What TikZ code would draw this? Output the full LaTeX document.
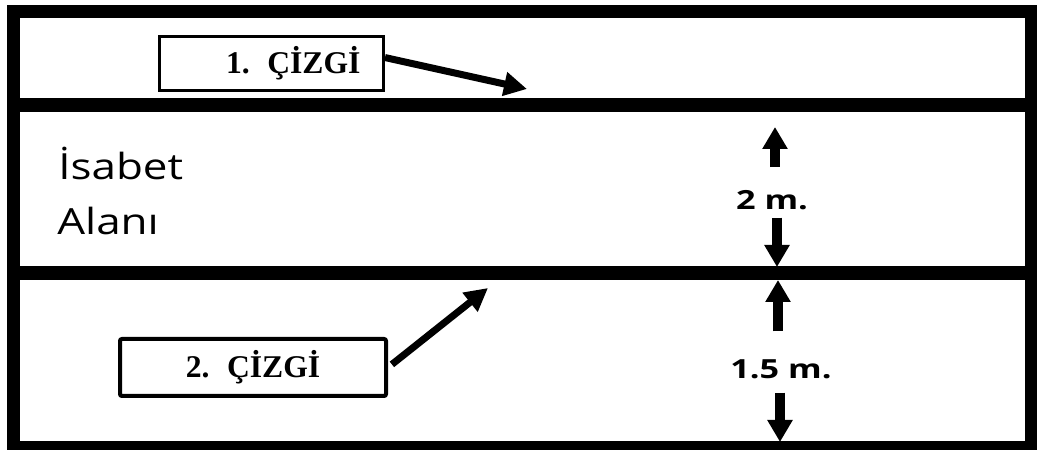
\documentclass[tikz,border=0pt]{standalone}
\usepackage{fontspec}
\setmainfont{Liberation Serif}
\newfontfamily\areafont[FakeStretch=1.22]{Open Sans}
\newfontfamily\dimfont[FakeStretch=1.3]{Open Sans}
\usetikzlibrary{arrows.meta, positioning}

\begin{document}
\begin{tikzpicture}[
		band/.style={line width=0.27cm},
		labelbox/.style={draw, line width=0.06cm, inner sep=0cm, font=\fontsize{18pt}{21pt}\selectfont\bfseries},
		callout/.style={line width=0.14cm, -{Triangle[length=0.46cm, width=0.46cm]}},
		dimarrow/.style={line width=0.2cm, -{Triangle[length=0.44cm, width=0.48cm]}},
		dimlabel/.style={inner sep=0cm, anchor=base, font=\dimfont\fontsize{15pt}{18pt}\selectfont\bfseries},
		arealabel/.style={inner sep=0cm, anchor=base west, font=\areafont\fontsize{20.5pt}{24pt}\selectfont}]
		\useasboundingbox (0cm, 0cm) rectangle (20.74cm, 9cm);
		% field and the two lines
		\path [draw, band] (0.27cm, 0.05cm) rectangle (20.63cm, 8.77cm);
		\path [draw, band] (0.27cm, 6.9cm) -- (20.63cm, 6.9cm);
		\path [draw, band] (0.27cm, 3.54cm) -- (20.63cm, 3.54cm);
		% line labels
		\node [labelbox, minimum height=1.08cm, text width=3.56cm, inner xsep=0.46cm, align=right] (boxone) at (5.43cm, 7.73cm) {1.\hspace{0.35cm}ÇİZGİ};
		\node [labelbox, line width=0.08cm, rounded corners=0.04cm, minimum width=5.32cm, minimum height=1.14cm] (boxtwo) at (5.06cm, 1.65cm) {2.\hspace{0.35cm}ÇİZGİ};
		\coordinate (tipone) at (10.54cm, 7.22cm);
		\coordinate (tiptwo) at (9.76cm, 3.24cm);
		\path [draw, callout] (boxone.3) -- (tipone);
		\path [draw, callout, shorten <=0.1cm] (boxtwo.east) -- (tiptwo);
		% target area
		\node [arealabel] (isabet) at (1.16cm, 5.4cm) {İsabet};
		\node [arealabel] (alani) at (1.14cm, 4.3cm) {Alanı};
		% distances
		\node [dimlabel] (dimtwo) at (15.44cm, 4.8cm) {2 m.};
		\node [dimlabel] (dimonehalf) at (15.62cm, 1.44cm) {1.5 m.};
		\coordinate (dimtwoup) at (15.5cm, 6.46cm);
		\coordinate (dimtwodown) at (15.54cm, 3.66cm);
		\coordinate (dimonehalfup) at (15.56cm, 3.4cm);
		\coordinate (dimonehalfdown) at (15.6cm, 0.16cm);
		\path [draw, dimarrow, shorten <=0.47cm] (dimtwo.north -| dimtwoup) -- (dimtwoup);
		\path [draw, dimarrow, shorten <=0.14cm] (dimtwo.south -| dimtwodown) -- (dimtwodown);
		\path [draw, dimarrow, shorten <=0.55cm] (dimonehalf.north -| dimonehalfup) -- (dimonehalfup);
		\path [draw, dimarrow, shorten <=0.28cm] (dimonehalf.south -| dimonehalfdown) -- (dimonehalfdown);
	\end{tikzpicture}
\end{document}
